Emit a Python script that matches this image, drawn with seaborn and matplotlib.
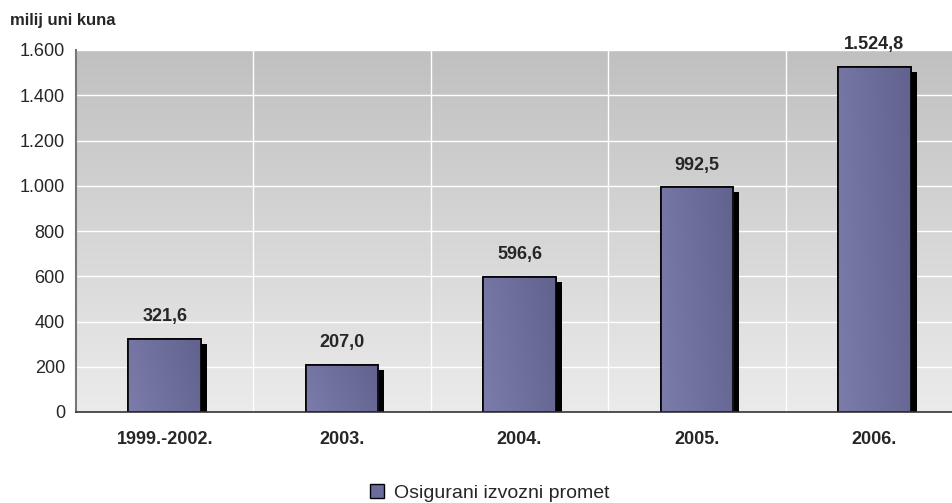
import numpy as np
import pandas as pd

import matplotlib
matplotlib.use("Agg")
import matplotlib.pyplot as plt
from matplotlib.colors import LinearSegmentedColormap
from matplotlib.patches import Rectangle
import matplotlib.transforms as mtransforms
import seaborn as sns

categories = ["1999.-2002.", "2003.", "2004.", "2005.", "2006."]
values = [321.6, 207.0, 596.6, 992.5, 1524.8]
value_labels = ["321,6", "207,0", "596,6", "992,5", "1.524,8"]
y_ticks = [0, 200, 400, 600, 800, 1000, 1200, 1400, 1600]
y_tick_labels = ["0", "200", "400", "600", "800", "1.000", "1.200", "1.400", "1.600"]
series_name = "Osigurani izvozni promet"

df = pd.DataFrame({"period": categories, "value": values})

sns.set_style("white")
plt.rcParams["font.family"] = ["Liberation Sans", "DejaVu Sans"]

fig = plt.figure(figsize=(9.53, 5.03), dpi=100)
# plot area runs a little past the right edge of the picture, as in the original
ax = fig.add_axes([76 / 953, 1 - 412 / 503, 887 / 953, (412 - 50) / 503])

# background gradient, dark at top
bg = LinearSegmentedColormap.from_list("bg", ["#ebebeb", "#c0c0c0"])
grad = np.linspace(0, 1, 256).reshape(-1, 1)
ax.imshow(grad, cmap=bg, aspect="auto", origin="lower",
          extent=[0, 1, 0, 1], transform=ax.transAxes, zorder=0)

sns.barplot(data=df, x="period", y="value", color="#6c6c9c", width=0.41,
            edgecolor="black", linewidth=1.2, saturation=1, ax=ax, zorder=3)

units_per_px = 1600 / 362
bar_cmap = LinearSegmentedColormap.from_list("bar", ["#7c7cab", "#62628f"])
shift = mtransforms.offset_copy(ax.transData, fig=fig, x=6, y=0, units="dots")
for patch in list(ax.patches):
    x0, y0 = patch.get_x(), patch.get_y()
    w, h = patch.get_width(), patch.get_height()
    # drop shadow to the right, a bit lower than the bar top
    ax.add_patch(Rectangle((x0, y0), w, h - 5 * units_per_px, facecolor="black",
                           edgecolor="none", transform=shift, zorder=2))
    xx, yy = np.meshgrid(np.linspace(0, 1, 64), np.linspace(0, 1, 64))
    im = ax.imshow((xx + (1 - yy) * 0.3) / 1.3, cmap=bar_cmap, aspect="auto",
                   extent=[x0, x0 + w, y0, y0 + h], zorder=3.5)
    im.set_clip_path(patch)
    ax.add_patch(Rectangle((x0, y0), w, h, facecolor="none",
                           edgecolor="black", linewidth=1.2, zorder=4))

for i, (v, lab) in enumerate(zip(values, value_labels)):
    ax.annotate(lab, (i, v), xytext=(0, 10), textcoords="offset points",
                ha="center", va="bottom", fontsize=13, fontweight="bold",
                zorder=5, annotation_clip=False)

ax.set_xlim(-0.5, len(categories) - 0.5)
ax.set_ylim(0, 1600)
ax.set_yticks(y_ticks)
ax.set_yticklabels(y_tick_labels, fontsize=13)
ax.set_xticks(range(len(categories)))
ax.set_xticklabels(categories, fontsize=13, fontweight="bold")
ax.set_xticks(np.arange(-0.5, len(categories), 1), minor=True)
ax.tick_params(axis="x", which="major", length=0, pad=14)
ax.tick_params(axis="x", which="minor", length=6, color="#555555", width=1)
ax.tick_params(axis="y", length=5, color="#555555", width=1, pad=3)

for y in y_ticks[1:]:
    ax.axhline(y, color="white", linewidth=1, zorder=1)
for x in np.arange(0.5, len(categories) - 0.5, 1):
    ax.axvline(x, color="white", linewidth=1, zorder=1)

for s in ["top", "right"]:
    ax.spines[s].set_visible(False)
ax.spines["left"].set_color("#777777")
ax.spines["left"].set_linewidth(1.5)
ax.spines["bottom"].set_color("#333333")
ax.spines["bottom"].set_linewidth(1.2)
ax.spines["left"].set_zorder(6)
ax.spines["bottom"].set_zorder(6)

ax.set_xlabel("")
ax.set_ylabel("")

fig.text(10 / 953, 1 - 20 / 503, "milij uni kuna", fontsize=12,
         fontweight="bold", va="center", ha="left")

handle = Rectangle((0, 0), 1, 1, facecolor="#6c6c9c", edgecolor="black",
                   linewidth=1)
fig.legend([handle], [series_name], loc="center", bbox_to_anchor=(0.514, 1 - 493 / 503),
           frameon=False, fontsize=14, handlelength=0.7, handleheight=0.7,
           handletextpad=0.5, borderpad=0)

fig.savefig("out.png", dpi=100)
